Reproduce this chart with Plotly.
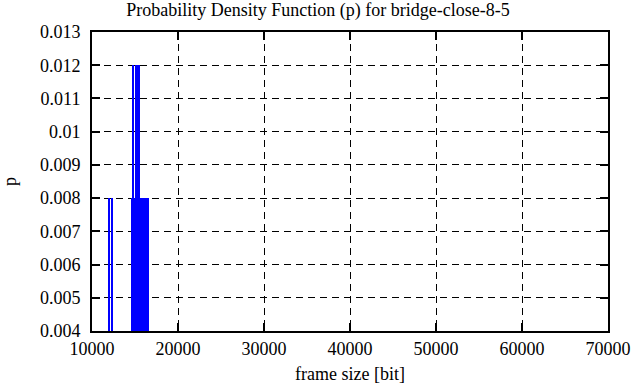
import plotly.graph_objects as go

# Histogram bins (frame size centre in bits) and probability values
frame_size = [11950, 12300,
              14600, 14700, 14800, 14900, 15000, 15100, 15200, 15300, 15400,
              15500, 15600, 15700, 15800, 15900, 16000, 16100, 16200, 16300,
              16400, 16500]
prob = [0.008, 0.008,
        0.008, 0.008, 0.012, 0.008, 0.008, 0.012, 0.012, 0.012, 0.012,
        0.012, 0.008, 0.008, 0.008, 0.008, 0.008, 0.008, 0.008, 0.008,
        0.008, 0.008]

x_ticks = [10000, 20000, 30000, 40000, 50000, 60000, 70000]
y_ticks = [0.004, 0.005, 0.006, 0.007, 0.008, 0.009, 0.01, 0.011, 0.012, 0.013]
y_labels = ["0.004", "0.005", "0.006", "0.007", "0.008", "0.009", "0.01",
            "0.011", "0.012", "0.013"]

font = "Liberation Serif"
fs = 18

fig = go.Figure()
fig.add_trace(go.Bar(x=frame_size, y=prob, width=100,
                     marker=dict(color="#0000ff", line=dict(width=0))))

axis_common = dict(showline=True, linecolor="black", linewidth=2, mirror="ticks",
                   ticks="inside", ticklen=8, tickwidth=2, tickcolor="black",
                   showgrid=True, gridcolor="black", gridwidth=1, griddash="7px,5px",
                   zeroline=False, automargin=False,
                   tickfont=dict(family=font, size=fs, color="black"))

fig.update_xaxes(range=[10000, 70000], tickvals=x_ticks, tickformat="d",
                 title=dict(text="frame size [bit]", font=dict(family=font, size=fs, color="black"),
                            standoff=10),
                 **axis_common)
fig.update_yaxes(range=[0.004, 0.013], tickvals=y_ticks, ticktext=y_labels,
                 ticklabelstandoff=6,
                 title=dict(text="p", font=dict(family=font, size=fs, color="black"), standoff=20),
                 **axis_common)

fig.update_layout(
    width=636, height=387,
    margin=dict(l=92, r=28, t=32, b=56),
    paper_bgcolor="white", plot_bgcolor="white",
    showlegend=False, bargap=0,
    title=dict(text="Probability Density Function (p) for bridge-close-8-5",
               x=0.5, xanchor="center", y=0.974, yanchor="middle",
               font=dict(family=font, size=fs, color="black")),
)

fig.write_html("out.html", config={"displayModeBar": False})

# remove the default browser body margin so the figure sits at the page origin
with open("out.html", "r", encoding="utf-8") as f:
    html = f.read()
html = html.replace("<body>", '<body style="margin:0;padding:0;">', 1)
with open("out.html", "w", encoding="utf-8") as f:
    f.write(html)
